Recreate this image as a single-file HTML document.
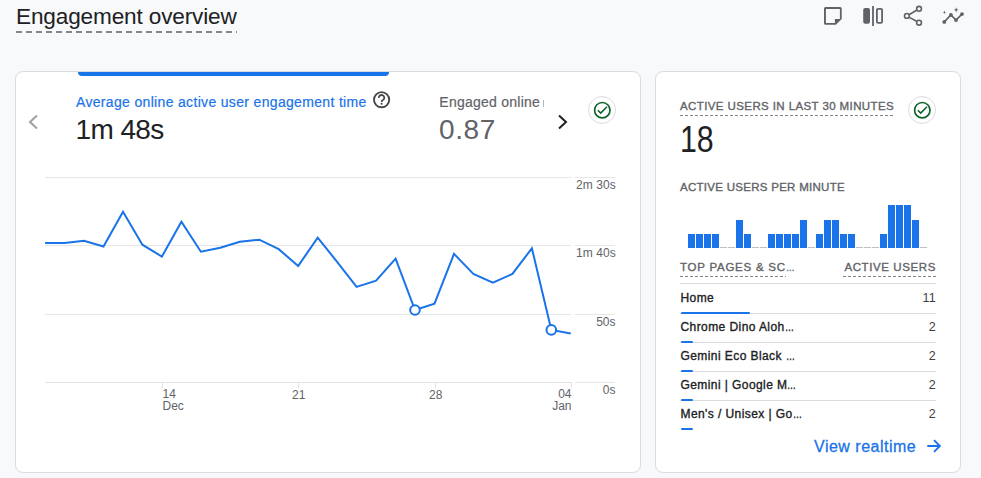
<!DOCTYPE html>
<html><head><meta charset="utf-8">
<style>
*{box-sizing:border-box;margin:0;padding:0}
html,body{width:981px;height:478px;overflow:hidden;background:#f8f9fa;font-family:"Liberation Sans",sans-serif;color:#202124;position:relative}
.t{position:absolute;white-space:nowrap;line-height:1}
.cap{font-size:11.5px;color:#5f6368;-webkit-text-stroke:0.35px #5f6368}
.dash{position:absolute;height:2px;background:repeating-linear-gradient(90deg,#80868b 0 6px,transparent 6px 10px)}
.dash3{position:absolute;height:1px;background:repeating-linear-gradient(90deg,#80868b 0 3px,transparent 3px 5px)}
.card{position:absolute;background:#fff;border:1px solid #dadce0;border-radius:8px}
svg{position:absolute;overflow:visible}
.hr{position:absolute;height:1px;background:#dadce0}
.row{position:absolute;left:680px;width:256px;font-size:12px;font-weight:700;color:#3c4043}
.rowt{font-size:12px;letter-spacing:0.42px;color:#202124;-webkit-text-stroke:0.35px #202124}
.el{display:inline-block;transform:scaleX(0.75);transform-origin:0 0;letter-spacing:0}
.rown{font-size:12.5px;color:#3c4043;letter-spacing:0.3px}
.lbl{position:absolute;font-size:12px;color:#5f6368;white-space:nowrap;line-height:1}
</style></head>
<body>
<div class="t" style="left:16px;top:6px;font-size:22.6px;letter-spacing:-0.15px;color:#202124">Engagement overview</div>
<div class="dash" style="left:16px;top:31px;width:221px"></div>

<!-- top icons -->
<svg style="left:824px;top:7px" width="18" height="18" viewBox="0 0 18 18"><path fill="#5f6368" fill-rule="evenodd" d="M0,1.5Q0,0 1.5,0H16.2Q17.7,0 17.7,1.5V12L11.8,17.8H1.5Q0,17.8 0,16.3Z M1.9,2.1H15.9V12H10.9V15.9H1.9Z"/></svg>
<svg style="left:863px;top:6px" width="21" height="20" viewBox="0 0 21 20"><rect x="0.2" y="2" width="6.8" height="15.8" rx="2" fill="#5f6368"/><rect x="9.1" y="0" width="1.8" height="20" fill="#5f6368"/><rect x="13.9" y="2.9" width="5.2" height="14" rx="1.2" fill="none" stroke="#5f6368" stroke-width="1.8"/></svg>
<svg style="left:900px;top:4px" width="26" height="24" viewBox="0 0 26 24"><g fill="none" stroke="#5f6368" stroke-width="1.6"><circle cx="19.05" cy="4.8" r="2.4"/><circle cx="6.9" cy="11.9" r="2.4"/><circle cx="19.05" cy="18.7" r="2.4"/><path d="M9,10.7L17,6M9,13.1L17,17.5"/></g></svg>
<svg style="left:940px;top:4px" width="26" height="24" viewBox="0 0 26 24"><g fill="#5f6368"><path d="M4.3,17.9L10.9,11L16,16.1L22,10.1" fill="none" stroke="#5f6368" stroke-width="1.6"/><circle cx="4.3" cy="17.9" r="1.9"/><circle cx="10.9" cy="11" r="1.9"/><circle cx="16" cy="16.1" r="1.9"/><circle cx="22" cy="10.1" r="1.9"/><path d="M4.4,6.6L4.9,7.9L6.2,8.35L4.9,8.8L4.4,10.1L3.9,8.8L2.6,8.35L3.9,7.9Z"/><path d="M16.2,3.3L16.9,5.15L18.7,5.85L16.9,6.55L16.2,8.4L15.5,6.55L13.7,5.85L15.5,5.15Z"/></g></svg>

<!-- LEFT CARD -->
<div class="card" style="left:15px;top:71px;width:626px;height:402px"></div>
<div style="position:absolute;left:78px;top:72px;width:311px;height:4px;background:#1a73e8;border-radius:0 0 4px 4px"></div>
<svg style="left:0;top:0" width="1" height="1"><polyline points="37,115.5 30,122 37,128.5" fill="none" stroke="#a0a0a0" stroke-width="2"/></svg>
<div class="t" style="left:76px;top:95px;font-size:14px;letter-spacing:0.33px;color:#1a73e8;-webkit-text-stroke:0.2px #1a73e8">Average online active user engagement time</div>
<svg style="left:0;top:0" width="1" height="1"><circle cx="381.6" cy="99.7" r="7.6" fill="none" stroke="#45494d" stroke-width="1.9"/><path d="M378.9,97.9A2.7,2.7 0 1 1 383.6,99.5Q381.6,100.6 381.6,102.0" fill="none" stroke="#45494d" stroke-width="1.8"/><circle cx="381.6" cy="103.8" r="1.05" fill="#45494d"/></svg>
<div class="t" style="left:75.5px;top:115.5px;font-size:28px;letter-spacing:-0.6px;color:#202124">1m 48s</div>
<div style="position:absolute;left:440px;top:90px;width:102px;height:22px;overflow:hidden"><div class="t" style="left:-0.7px;top:5px;font-size:14px;letter-spacing:0.25px;color:#5f6368;-webkit-text-stroke:0.2px #5f6368">Engaged online users</div></div><div style="position:absolute;left:543px;top:100px;width:1px;height:7px;background:#5f6368;opacity:.45"></div>
<div class="t" style="left:439px;top:115.5px;font-size:28px;letter-spacing:0.6px;color:#5f6368">0.87</div>
<svg style="left:0;top:0" width="1" height="1"><polyline points="559,115.5 566,122 559,128.5" fill="none" stroke="#202124" stroke-width="2"/></svg>
<div style="position:absolute;left:588px;top:96px;width:28px;height:28px;border:1px solid #dadce0;border-radius:50%"></div>
<svg style="left:0;top:0" width="1" height="1"><circle cx="602.3" cy="110.2" r="7.7" fill="none" stroke="#0d652d" stroke-width="1.7"/><polyline points="597.8,110.2 600.7,113.1 607,106.8" fill="none" stroke="#0d652d" stroke-width="1.6"/></svg>

<!-- chart grid -->
<div style="position:absolute;left:45px;top:177px;width:526px;height:1px;background:#e6e6e6"></div>
<div style="position:absolute;left:575px;top:177px;width:40px;height:1px;background:#e6e6e6"></div>
<div style="position:absolute;left:45px;top:245px;width:526px;height:1px;background:#e6e6e6"></div>
<div style="position:absolute;left:575px;top:245px;width:40px;height:1px;background:#e6e6e6"></div>
<div style="position:absolute;left:45px;top:314px;width:526px;height:1px;background:#e6e6e6"></div>
<div style="position:absolute;left:575px;top:314px;width:40px;height:1px;background:#e6e6e6"></div>
<div style="position:absolute;left:45px;top:382px;width:527px;height:1px;background:#e3e3e3"></div>
<div style="position:absolute;left:575px;top:382px;width:40px;height:1px;background:#e6e6e6"></div>
<div style="position:absolute;left:162px;top:382px;width:1px;height:6px;background:#e3e3e3"></div>
<div style="position:absolute;left:298px;top:382px;width:1px;height:6px;background:#e3e3e3"></div>
<div style="position:absolute;left:435px;top:382px;width:1px;height:6px;background:#e3e3e3"></div>
<div style="position:absolute;left:571px;top:382px;width:1px;height:6px;background:#e3e3e3"></div>

<div class="lbl" style="left:576px;top:179px;letter-spacing:0.1px">2m 30s</div>
<div class="lbl" style="left:576px;top:247px;letter-spacing:0.1px">1m 40s</div>
<div class="lbl" style="right:365.5px;top:316px">50s</div>
<div class="lbl" style="right:365.5px;top:384px">0s</div>
<div class="lbl" style="left:162.5px;top:389px;line-height:11.5px">14<br>Dec</div>
<div class="lbl" style="left:292px;top:389px">21</div>
<div class="lbl" style="left:429px;top:389px">28</div>
<div class="lbl" style="right:409.5px;top:389px;line-height:11.5px;text-align:right">04<br>Jan</div>

<svg style="left:0;top:0" width="1" height="1">
<polyline fill="none" stroke="#1a73e8" stroke-width="2" stroke-linejoin="miter" points="45.1,243 64.6,243 84.0,240.7 103.5,246.5 123.0,211.7 142.4,244.7 161.9,256.6 181.4,221.8 200.9,251.7 220.3,247.7 239.8,241.8 259.3,239.7 278.7,249.2 298.2,265.9 317.7,237.7 337.1,261.8 356.6,286.9 376.1,280.7 395.6,258.7 415.0,310 434.5,303.7 454.0,253.9 473.4,274 492.9,282.7 512.4,273.9 531.9,248.3 551.3,329.9 570.8,333.4"/>
<circle cx="415.0" cy="310" r="4.8" fill="#fff" stroke="#1a73e8" stroke-width="2"/>
<circle cx="551.3" cy="329.9" r="4.8" fill="#fff" stroke="#1a73e8" stroke-width="2"/>
</svg>

<!-- RIGHT CARD -->
<div class="card" style="left:655px;top:71px;width:306px;height:402px"></div>
<div class="t cap" style="left:680px;top:100.5px;letter-spacing:0.4px">ACTIVE USERS IN LAST 30 MINUTES</div>
<div class="dash3" style="left:680px;top:115px;width:213px"></div>
<div style="position:absolute;left:908px;top:96px;width:28px;height:28px;border:1px solid #dadce0;border-radius:50%"></div>
<svg style="left:0;top:0" width="1" height="1"><circle cx="922.3" cy="110.2" r="7.7" fill="none" stroke="#0d652d" stroke-width="1.7"/><polyline points="917.8,110.2 920.7,113.1 927,106.8" fill="none" stroke="#0d652d" stroke-width="1.6"/></svg>
<div class="t" style="left:679.5px;top:121.5px;font-size:36.5px;transform:scaleX(0.83);transform-origin:0 0;color:#202124">18</div>
<div class="t cap" style="left:680px;top:181.5px;letter-spacing:0.28px">ACTIVE USERS PER MINUTE</div>
<svg style="left:0;top:0" width="1" height="1"><rect x="688" y="234" width="7" height="14" fill="#1a73e8"/><rect x="696" y="234" width="7" height="14" fill="#1a73e8"/><rect x="704" y="234" width="7" height="14" fill="#1a73e8"/><rect x="712" y="234" width="7" height="14" fill="#1a73e8"/><rect x="720" y="247" width="7" height="1" fill="#bdc1c6"/><rect x="728" y="247" width="7" height="1" fill="#bdc1c6"/><rect x="736" y="220" width="7" height="28" fill="#1a73e8"/><rect x="744" y="234" width="7" height="14" fill="#1a73e8"/><rect x="752" y="247" width="7" height="1" fill="#bdc1c6"/><rect x="760" y="247" width="7" height="1" fill="#bdc1c6"/><rect x="768" y="234" width="7" height="14" fill="#1a73e8"/><rect x="776" y="234" width="7" height="14" fill="#1a73e8"/><rect x="784" y="234" width="7" height="14" fill="#1a73e8"/><rect x="792" y="234" width="7" height="14" fill="#1a73e8"/><rect x="800" y="220" width="7" height="28" fill="#1a73e8"/><rect x="808" y="247" width="7" height="1" fill="#bdc1c6"/><rect x="816" y="234" width="7" height="14" fill="#1a73e8"/><rect x="824" y="220" width="7" height="28" fill="#1a73e8"/><rect x="832" y="220" width="7" height="28" fill="#1a73e8"/><rect x="840" y="234" width="7" height="14" fill="#1a73e8"/><rect x="848" y="234" width="7" height="14" fill="#1a73e8"/><rect x="856" y="247" width="7" height="1" fill="#bdc1c6"/><rect x="864" y="247" width="7" height="1" fill="#bdc1c6"/><rect x="872" y="247" width="7" height="1" fill="#bdc1c6"/><rect x="880" y="234" width="7" height="14" fill="#1a73e8"/><rect x="888" y="205" width="7" height="43" fill="#1a73e8"/><rect x="896" y="205" width="7" height="43" fill="#1a73e8"/><rect x="904" y="205" width="7" height="43" fill="#1a73e8"/><rect x="912" y="220" width="7" height="28" fill="#1a73e8"/><rect x="920" y="247" width="7" height="1" fill="#bdc1c6"/></svg>

<div class="t cap" style="left:680px;top:262px;letter-spacing:0.75px">TOP PAGES &amp; SC<span class="el">…</span></div>
<div class="dash3" style="left:680px;top:276px;width:106px"></div>
<div class="t cap" style="right:45px;top:262px;letter-spacing:0.6px">ACTIVE USERS</div>
<div class="dash3" style="left:843px;top:276px;width:93px"></div>
<div class="hr" style="left:680px;top:283px;width:256px"></div>
<div class="t rowt" style="left:680.5px;top:292px">Home</div><div class="t rown" style="right:45px;top:292px">11</div><div class="hr" style="left:680px;top:313px;width:256px"></div><div style="position:absolute;left:681px;top:312px;width:69px;height:2px;background:#1a73e8;border-radius:1px"></div><div class="t rowt" style="left:680.5px;top:321px">Chrome Dino Aloh<span class="el">…</span></div><div class="t rown" style="right:45px;top:321px">2</div><div class="hr" style="left:680px;top:342px;width:256px"></div><div style="position:absolute;left:681px;top:341px;width:12px;height:2px;background:#1a73e8;border-radius:1px"></div><div class="t rowt" style="left:680.5px;top:350px">Gemini Eco Black <span class="el">…</span></div><div class="t rown" style="right:45px;top:350px">2</div><div class="hr" style="left:680px;top:371px;width:256px"></div><div style="position:absolute;left:681px;top:370px;width:12px;height:2px;background:#1a73e8;border-radius:1px"></div><div class="t rowt" style="left:680.5px;top:379px">Gemini | Google M<span class="el">…</span></div><div class="t rown" style="right:45px;top:379px">2</div><div class="hr" style="left:680px;top:400px;width:256px"></div><div style="position:absolute;left:681px;top:399px;width:12px;height:2px;background:#1a73e8;border-radius:1px"></div><div class="t rowt" style="left:680.5px;top:408px">Men's / Unisex | Go<span class="el">…</span></div><div class="t rown" style="right:45px;top:408px">2</div><div style="position:absolute;left:681px;top:428px;width:12px;height:2px;background:#1a73e8;border-radius:1px"></div>
<div class="t" style="left:814px;top:438.6px;font-size:16px;letter-spacing:0.5px;color:#1a73e8;-webkit-text-stroke:0.3px #1a73e8">View realtime</div><svg style="left:0;top:0" width="1" height="1"><path d="M927.3,446H939.6M934,440.1L939.9,446L934,451.9" fill="none" stroke="#1a73e8" stroke-width="1.9"/></svg>
</body></html>
